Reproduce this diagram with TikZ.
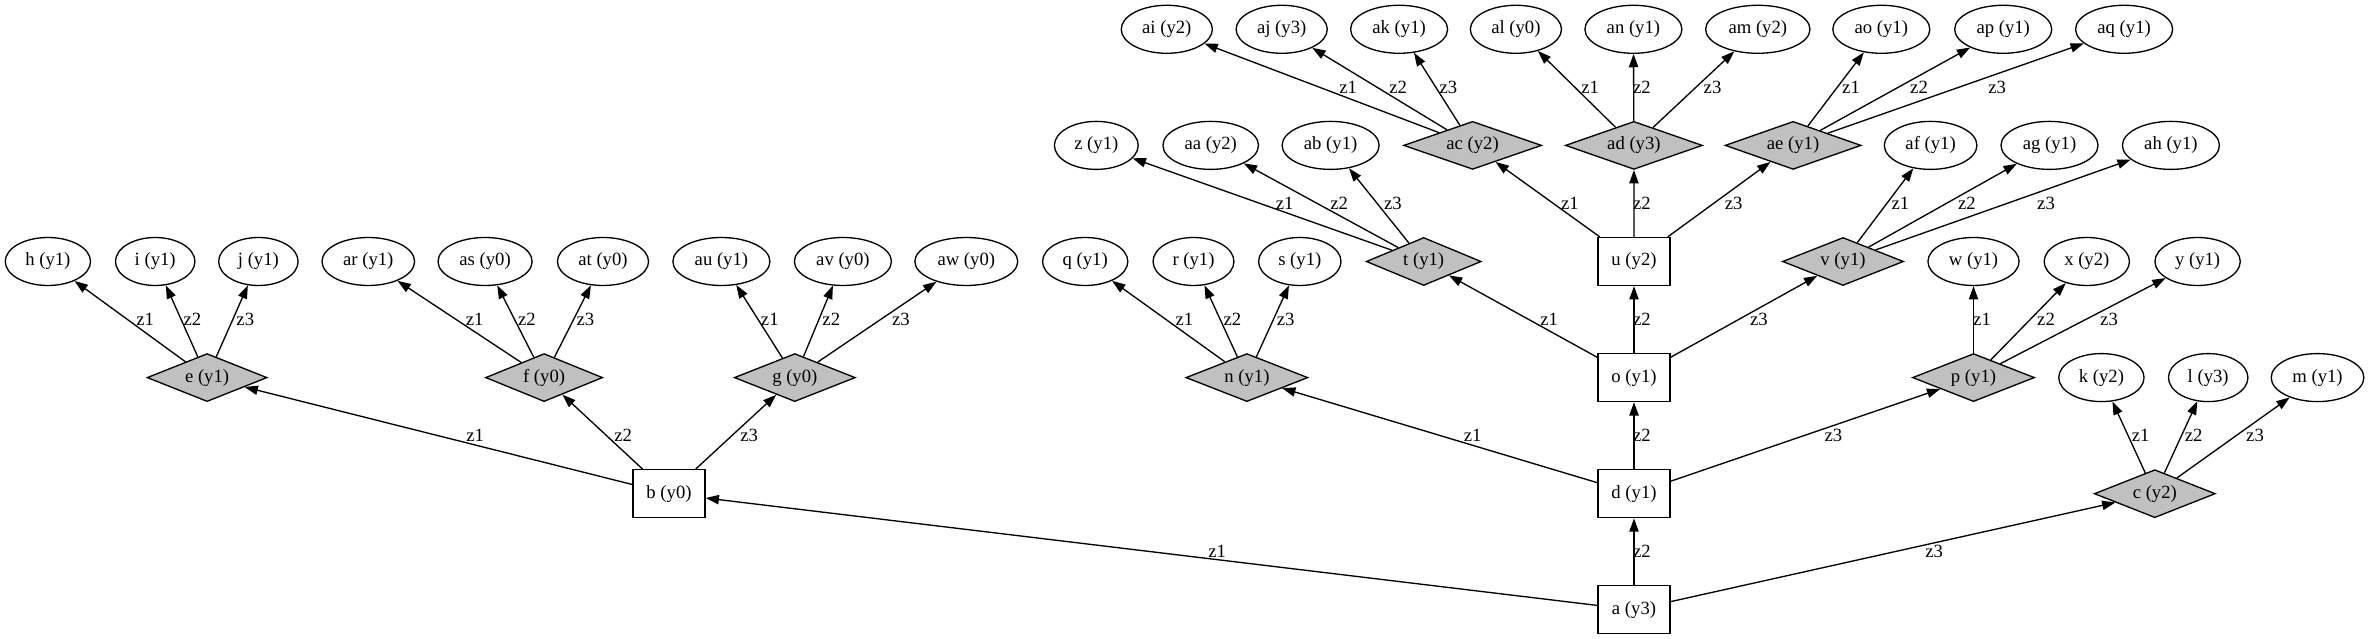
\documentclass[tikz,border=0pt]{standalone}
\usepackage{fontspec}
\setmainfont{Liberation Serif}
\usetikzlibrary{shapes.geometric,arrows.meta}
\definecolor{dgray}{RGB}{192,192,192}
\tikzset{
  ell/.style={ellipse, draw, line width=1.33pt, inner xsep=7.6pt, inner ysep=0pt, minimum height=48pt},
  dia/.style={diamond, draw, fill=dgray, line width=1.33pt, aspect=3, inner sep=0pt, minimum height=48pt, minimum width=#1},
  boxn/.style={rectangle, draw, fill=white, line width=1.33pt, minimum width=72pt, minimum height=48pt, inner sep=0pt},
  edge/.style={-{Triangle[length=13.3pt,width=9.3pt]}, line width=1.33pt},
  lbl/.style={inner sep=0pt}
}
\begin{document}
\begin{tikzpicture}[x=1pt,y=1pt,font=\fontsize{18.67}{22}\selectfont]
\fill[white] (0,0) rectangle (2369,639);
\useasboundingbox (0,0) rectangle (2369,639);
% rank 0
\node[ell] (Nai) at (1166.8,609.7) {ai (y2)};
\node[ell] (Naj) at (1281.7,609.7) {aj (y3)};
\node[ell] (Nak) at (1399.1,609.7) {ak (y1)};
\node[ell] (Nal) at (1515.9,609.7) {al (y0)};
\node[ell] (Nan) at (1633.4,609.7) {an (y1)};
\node[ell] (Nam) at (1757.8,609.7) {am (y2)};
\node[ell] (Nao) at (1881.3,609.7) {ao (y1)};
\node[ell] (Nap) at (2003.2,609.7) {ap (y1)};
\node[ell] (Naq) at (2124.1,609.7) {aq (y1)};
% rank 1
\node[ell] (Nz) at (1096.3,493.6) {z (y1)};
\node[ell] (Naa) at (1210.7,493.6) {aa (y2)};
\node[ell] (Nab) at (1330.6,493.6) {ab (y1)};
\node[dia=138pt] (Nac) at (1472.6,493.6) {ac (y2)};
\node[dia=137pt] (Nad) at (1633.9,493.6) {ad (y3)};
\node[dia=136pt] (Nae) at (1793.1,493.6) {ae (y1)};
\node[ell] (Naf) at (1930.6,493.6) {af (y1)};
\node[ell] (Nag) at (2049.5,493.6) {ag (y1)};
\node[ell] (Nah) at (2170.9,493.6) {ah (y1)};
% rank 2
\node[ell] (Nh) at (47.9,377.5) {h (y1)};
\node[ell] (Ni) at (155.2,377.5) {i (y1)};
\node[ell] (Nj) at (258.4,377.5) {j (y1)};
\node[ell] (Nar) at (368.3,377.5) {ar (y1)};
\node[ell] (Nas) at (485.1,377.5) {as (y0)};
\node[ell] (Nat) at (603.0,377.5) {at (y0)};
\node[ell] (Nau) at (721.4,377.5) {au (y1)};
\node[ell] (Nav) at (842.9,377.5) {av (y0)};
\node[ell] (Naw) at (966.3,377.5) {aw (y0)};
\node[ell] (Nq) at (1085.2,377.5) {q (y1)};
\node[ell] (Nr) at (1193.5,377.5) {r (y1)};
\node[ell] (Ns) at (1299.8,377.5) {s (y1)};
\node[dia=115pt] (Nt) at (1423.7,377.5) {t (y1)};
\node[boxn] (Nu) at (1634,377.5) {u (y2)};
\node[dia=121pt] (Nv) at (1843,377.5) {v (y1)};
\node[ell] (Nw) at (1973.5,377.5) {w (y1)};
\node[ell] (Nx) at (2086.8,377.5) {x (y2)};
\node[ell] (Ny) at (2197.6,377.5) {y (y1)};
% rank 3
\node[dia=120pt] (Ne) at (207.1,261.4) {e (y1)};
\node[dia=117pt] (Nf) at (544.1,261.4) {f (y0)};
\node[dia=121pt] (Ng) at (794.8,261.4) {g (y0)};
\node[dia=122pt] (Nn) at (1246.9,261.4) {n (y1)};
\node[boxn] (No) at (1634,261.4) {o (y1)};
\node[dia=122pt] (Np) at (1973.5,261.4) {p (y1)};
\node[ell] (Nk) at (2101.4,261.4) {k (y2)};
\node[ell] (Nl) at (2208.2,261.4) {l (y3)};
\node[ell] (Nm) at (2317.5,261.4) {m (y1)};
% rank 4
\node[boxn] (Nb) at (669,145.3) {b (y0)};
\node[boxn] (Nd) at (1634,145.3) {d (y1)};
\node[dia=121pt] (Nc) at (2154.8,145.3) {c (y2)};
% rank 5
\node[boxn] (Na) at (1634,29.2) {a (y3)};
% edges
\draw[edge] (Na) -- (Nb);
\draw[edge] (Na) -- (Nd);
\draw[edge] (Na) -- (Nc);
\draw[edge] (Nb) -- (Ne);
\draw[edge] (Nb) -- (Nf);
\draw[edge] (Nb) -- (Ng);
\draw[edge] (Nd) -- (Nn);
\draw[edge] (Nd) -- (No);
\draw[edge] (Nd) -- (Np);
\draw[edge] (Nc) -- (Nk);
\draw[edge] (Nc) -- (Nl);
\draw[edge] (Nc) -- (Nm);
\draw[edge] (Ne) -- (Nh);
\draw[edge] (Ne) -- (Ni);
\draw[edge] (Ne) -- (Nj);
\draw[edge] (Nf) -- (Nar);
\draw[edge] (Nf) -- (Nas);
\draw[edge] (Nf) -- (Nat);
\draw[edge] (Ng) -- (Nau);
\draw[edge] (Ng) -- (Nav);
\draw[edge] (Ng) -- (Naw);
\draw[edge] (Nn) -- (Nq);
\draw[edge] (Nn) -- (Nr);
\draw[edge] (Nn) -- (Ns);
\draw[edge] (No) -- (Nt);
\draw[edge] (No) -- (Nu);
\draw[edge] (No) -- (Nv);
\draw[edge] (Np) -- (Nw);
\draw[edge] (Np) -- (Nx);
\draw[edge] (Np) -- (Ny);
\draw[edge] (Nt) -- (Nz);
\draw[edge] (Nt) -- (Naa);
\draw[edge] (Nt) -- (Nab);
\draw[edge] (Nu) -- (Nac);
\draw[edge] (Nu) -- (Nad);
\draw[edge] (Nu) -- (Nae);
\draw[edge] (Nv) -- (Naf);
\draw[edge] (Nv) -- (Nag);
\draw[edge] (Nv) -- (Nah);
\draw[edge] (Nac) -- (Nai);
\draw[edge] (Nac) -- (Naj);
\draw[edge] (Nac) -- (Nak);
\draw[edge] (Nad) -- (Nal);
\draw[edge] (Nad) -- (Nan);
\draw[edge] (Nad) -- (Nam);
\draw[edge] (Nae) -- (Nao);
\draw[edge] (Nae) -- (Nap);
\draw[edge] (Nae) -- (Naq);
% labels
\node[lbl] (Lab) at (1217.2,87.25) {z1};
\node[lbl] (Lad) at (1642,87.25) {z2};
\node[lbl] (Lac) at (1934.2,87.25) {z3};
\node[lbl] (Lbe) at (475.1,203.35) {z1};
\node[lbl] (Lbf) at (623.2,203.35) {z2};
\node[lbl] (Lbg) at (749.1,203.35) {z3};
\node[lbl] (Ldn) at (1472.6,203.35) {z1};
\node[lbl] (Ldo) at (1642,203.35) {z2};
\node[lbl] (Ldp) at (1833.4,203.35) {z3};
\node[lbl] (Lck) at (2140.7,203.35) {z1};
\node[lbl] (Lcl) at (2193.6,203.35) {z2};
\node[lbl] (Lcm) at (2255,203.35) {z3};
\node[lbl] (Leh) at (145.1,319.45) {z1};
\node[lbl] (Lei) at (192.4,319.45) {z2};
\node[lbl] (Lej) at (245.3,319.45) {z3};
\node[lbl] (Lfar) at (474.6,319.45) {z1};
\node[lbl] (Lfas) at (527,319.45) {z2};
\node[lbl] (Lfat) at (585.4,319.45) {z3};
\node[lbl] (Lgau) at (769.8,319.45) {z1};
\node[lbl] (Lgav) at (831.3,319.45) {z2};
\node[lbl] (Lgaw) at (900.8,319.45) {z3};
\node[lbl] (Lnq) at (1184.5,319.45) {z1};
\node[lbl] (Lnr) at (1232.3,319.45) {z2};
\node[lbl] (Lns) at (1285.7,319.45) {z3};
\node[lbl] (Lot) at (1549.2,319.45) {z1};
\node[lbl] (Lou) at (1642,319.45) {z2};
\node[lbl] (Lov) at (1758.8,319.45) {z3};
\node[lbl] (Lpw) at (1982,319.45) {z1};
\node[lbl] (Lpx) at (2046,319.45) {z2};
\node[lbl] (Lpy) at (2109,319.45) {z3};
\node[lbl] (Ltz) at (1284.7,435.55) {z1};
\node[lbl] (Ltaa) at (1339.1,435.55) {z2};
\node[lbl] (Ltab) at (1393,435.55) {z3};
\node[lbl] (Luac) at (1569.8,435.55) {z1};
\node[lbl] (Luad) at (1642,435.55) {z2};
\node[lbl] (Luae) at (1733.7,435.55) {z3};
\node[lbl] (Lvaf) at (1900.4,435.55) {z1};
\node[lbl] (Lvag) at (1966.9,435.55) {z2};
\node[lbl] (Lvah) at (2046,435.55) {z3};
\node[lbl] (Lacai) at (1348.2,551.65) {z1};
\node[lbl] (Lacaj) at (1398.1,551.65) {z2};
\node[lbl] (Lacak) at (1448.4,551.65) {z3};
\node[lbl] (Ladal) at (1590.1,551.65) {z1};
\node[lbl] (Ladan) at (1642,551.65) {z2};
\node[lbl] (Ladam) at (1712.5,551.65) {z3};
\node[lbl] (Laeao) at (1851,551.65) {z1};
\node[lbl] (Laeap) at (1919,551.65) {z2};
\node[lbl] (Laeaq) at (1997.1,551.65) {z3};
\end{tikzpicture}
\end{document}
